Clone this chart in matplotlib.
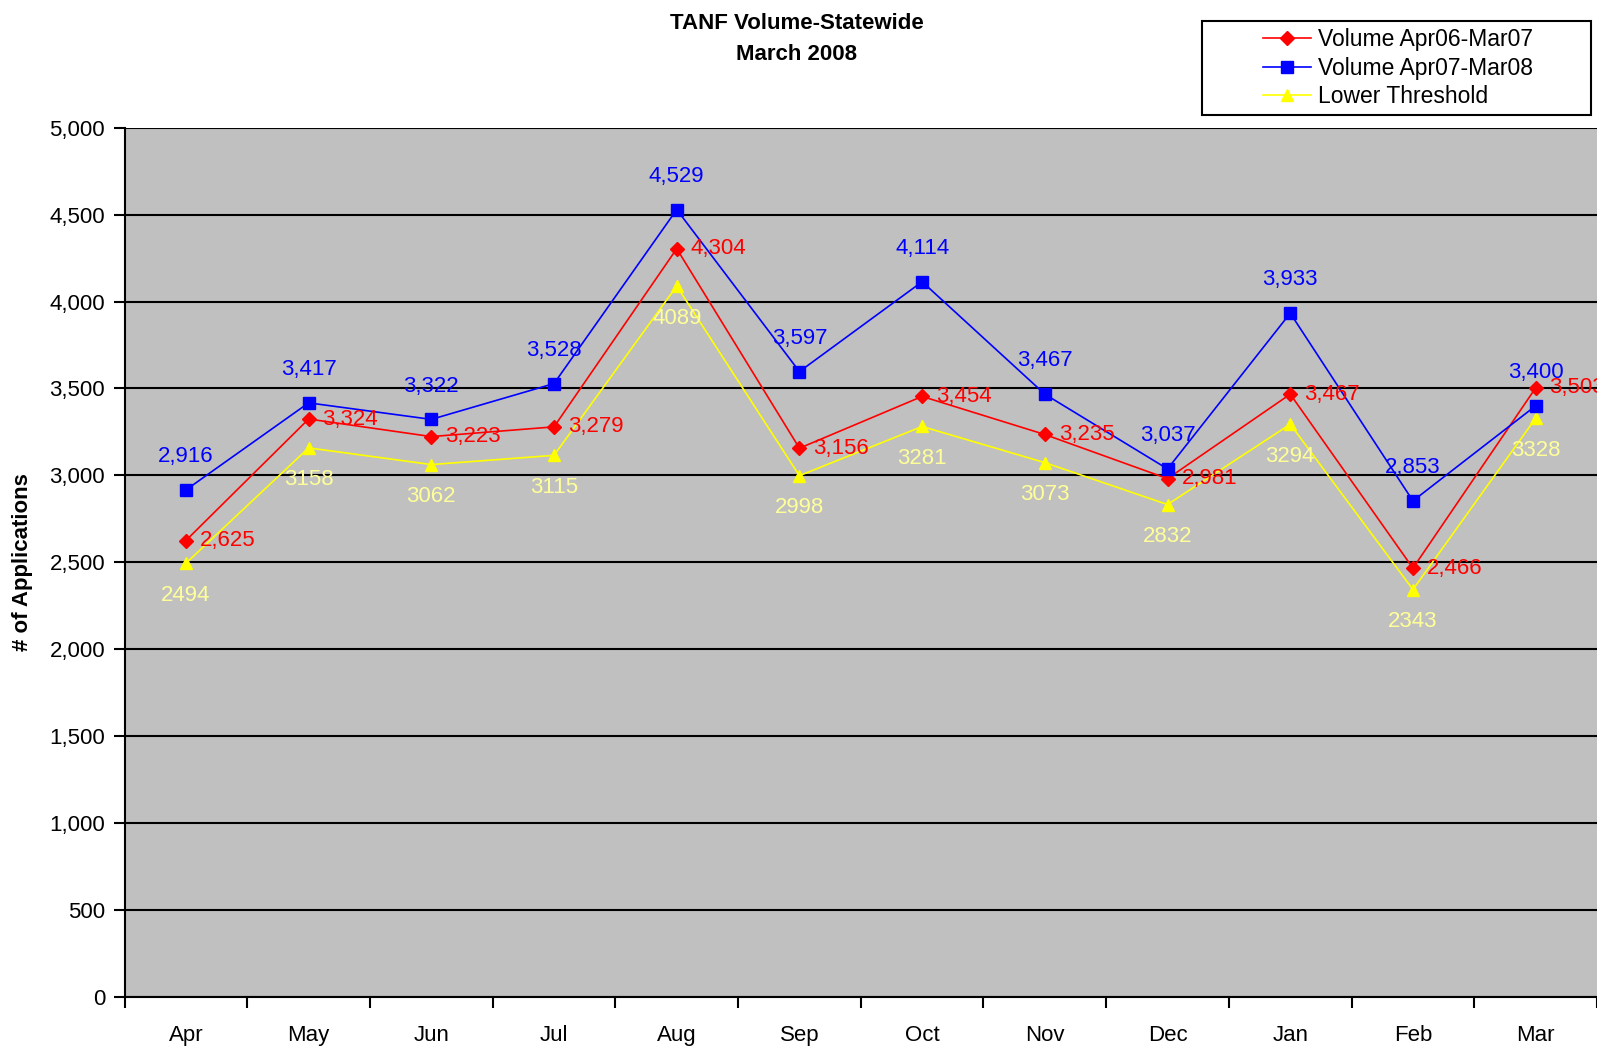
import matplotlib
matplotlib.use("Agg")
import matplotlib.pyplot as plt
from matplotlib.patches import Rectangle
import numpy as np

plt.rcParams['font.family'] = ['Liberation Sans', 'DejaVu Sans']

# Data
months = ["Apr", "May", "Jun", "Jul", "Aug", "Sep", "Oct", "Nov", "Dec", "Jan", "Feb", "Mar"]
vol_0607 = [2625, 3324, 3223, 3279, 4304, 3156, 3454, 3235, 2981, 3467, 2466, 3503]
vol_0708 = [2916, 3417, 3322, 3528, 4529, 3597, 4114, 3467, 3037, 3933, 2853, 3400]
lower_threshold = [2494, 3158, 3062, 3115, 4089, 2998, 3281, 3073, 2832, 3294, 2343, 3328]

fig = plt.figure(figsize=(15.97, 10.47), dpi=100)
ax = fig.add_axes([0.078, 0.048, 0.922, 0.830])
ax.set_facecolor("#C0C0C0")

x = np.arange(len(months))

ax.plot(x, vol_0607, color="red", marker="D", markersize=7, lw=1.2,
        label="Volume Apr06-Mar07", zorder=4)
ax.plot(x, vol_0708, color="blue", marker="s", markersize=8, lw=1.2,
        label="Volume Apr07-Mar08", zorder=5)
ax.plot(x, lower_threshold, color="yellow", marker="^", markersize=9, lw=1.2,
        label="Lower Threshold", zorder=3)

# data labels
for xi, v in zip(x, vol_0708):
    ax.annotate(f"{v:,}", (xi, v), xytext=(0, 24), textcoords="offset points",
                ha="center", va="center", color="blue", fontsize=16, zorder=6)
for xi, v in zip(x, vol_0607):
    ax.annotate(f"{v:,}", (xi, v), xytext=(10, 0), textcoords="offset points",
                ha="left", va="center", color="red", fontsize=16, zorder=6)
for xi, v in zip(x, lower_threshold):
    ax.annotate(f"{v}", (xi, v), xytext=(0, -23), textcoords="offset points",
                ha="center", va="center", color="#FFFF99", fontsize=16, zorder=6)

ax.set_xlim(-0.5, 11.5)
ax.set_ylim(0, 5000)
ax.set_yticks(np.arange(0, 5001, 500))
ax.set_yticklabels([f"{v:,}" for v in range(0, 5001, 500)], fontsize=16)
ax.yaxis.grid(True, color="black", lw=1.5)
ax.set_axisbelow(True)

# Excel-style categorical axis: ticks between categories, labels at centres
ax.set_xticks(np.arange(-0.5, 12, 1))
ax.set_xticklabels([])
ax.set_xticks(x, minor=True)
ax.set_xticklabels(months, minor=True, fontsize=16)
ax.tick_params(axis="x", which="major", length=8, width=1.5, direction="out")
ax.tick_params(axis="x", which="minor", length=0, pad=20)
ax.tick_params(axis="y", length=8, width=1.5, direction="out", pad=6)

for side in ["top", "right"]:
    ax.spines[side].set_visible(False)
for side in ["left", "bottom"]:
    ax.spines[side].set_linewidth(1.5)

ax.set_ylabel("# of Applications", fontsize=16, fontweight="bold", labelpad=12)

fig.text(0.499, 0.988, "TANF Volume-Statewide\nMarch 2008", ha="center", va="top",
         fontsize=16, fontweight="bold", linespacing=1.65)

# legend: frame drawn separately to leave Excel-like space on the left
fig.patches.append(Rectangle((0.7527, 0.890), 0.2436, 0.0898, transform=fig.transFigure,
                             facecolor="white", edgecolor="black", lw=1.5, zorder=1))
leg = fig.legend(loc="upper left", bbox_to_anchor=(0.791, 0.973), fontsize=16.5,
                 frameon=False, handlelength=2.1, handletextpad=0.3,
                 borderpad=0, labelspacing=0.24, borderaxespad=0)
leg.set_zorder(2)

fig.savefig("out.png", dpi=100)
